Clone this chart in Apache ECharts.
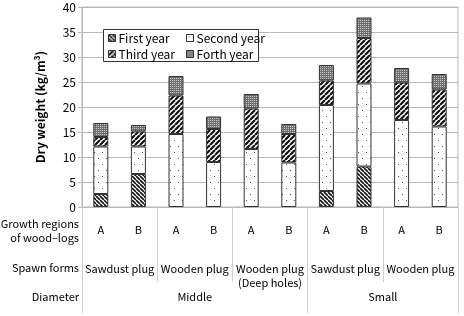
<!DOCTYPE html>
<html><head><meta charset="utf-8">
<script src="https://cdn.jsdelivr.net/npm/echarts@6/dist/echarts.min.js"></script>
<style>html,body{margin:0;padding:0;background:#fff}#c{width:464px;height:316px}</style>
</head><body><div id="c"></div>
<script>
const regions = ['A','B','A','B','A','B','A','B','A','B'];
const spawnForms = ['Sawdust plug','Wooden plug','Wooden plug\n(Deep holes)','Sawdust plug','Wooden plug'];
const diameters = ['Middle','Small'];
const diameterCounts = [6, 4];
const seriesNames = ['First year','Second year','Third year','Forth year'];
const firstYear  = [2.6, 6.6, 0, 0, 0, 0, 3.2, 8.1, 0, 0];
const secondYear = [9.5, 5.5, 14.6, 9.0, 11.6, 8.9, 17.2, 16.6, 17.4, 16.1];
const thirdYear  = [1.9, 3.0, 7.7, 6.6, 8.1, 5.7, 4.9, 9.1, 7.5, 7.4];
const forthYear  = [2.8, 1.3, 3.9, 2.5, 2.9, 2.0, 3.1, 4.1, 2.9, 3.1];
const yTicks = {min: 0, max: 40, interval: 5};

function hatch(size, lw, dir, fg, bg) {
  const c = document.createElement('canvas'); c.width = c.height = size;
  const g = c.getContext('2d'); g.fillStyle = bg; g.fillRect(0, 0, size, size);
  g.strokeStyle = fg; g.lineWidth = lw; g.beginPath();
  for (let k = -1; k <= 1; k++) {
    if (dir > 0) { g.moveTo(k*size, size); g.lineTo(k*size + size, 0); }
    else { g.moveTo(k*size, 0); g.lineTo(k*size + size, size); }
  }
  g.stroke(); return c;
}
function dots() {
  const c = document.createElement('canvas'); c.width = 8; c.height = 12;
  const g = c.getContext('2d'); g.fillStyle = '#fff'; g.fillRect(0, 0, 8, 12);
  g.fillStyle = '#555'; g.fillRect(2, 2, 1, 1); g.fillRect(6, 8, 1, 1);
  return c;
}
function grid2() {
  const c = document.createElement('canvas'); c.width = 2; c.height = 2;
  const g = c.getContext('2d'); g.fillStyle = '#707070'; g.fillRect(0, 0, 2, 2);
  g.fillStyle = '#c8c8c8'; g.fillRect(0, 0, 1, 1);
  return c;
}
const patterns = [
  hatch(4, 1.6, -1, '#111', '#fff'),
  dots(),
  hatch(5, 2.2, 1, '#111', '#fff'),
  grid2()
];
const values = [firstYear, secondYear, thirdYear, forthYear];

const total = diameterCounts.reduce((a, b) => a + b, 0);
const dTicks = [0]; const dCenters = [];
{ let acc = 0; diameterCounts.forEach(n => { dCenters.push(acc + n/2); acc += n; dTicks.push(acc); }); }

const font = '"Noto Sans CJK JP", "Noto Sans", sans-serif';
const fs = 11;
const lineC = '#b8b8b8';
const chart = echarts.init(document.getElementById('c'), null, {renderer: 'canvas'});
const legendCommon = {orient: 'vertical', top: 30, padding: [1, 2],
  itemWidth: 7, itemHeight: 7, itemGap: 2, icon: 'rect', z: 11,
  itemStyle: {borderColor: '#333', borderWidth: 1},
  textStyle: {fontSize: 12, fontFamily: font, color: '#000', lineHeight: 14, padding: [0, 0, 0, -2]}};
chart.setOption({
  animation: false,
  textStyle: {fontFamily: font, color: '#000'},
  grid: {left: 82, right: 6, top: 7, bottom: 109, show: true, borderColor: lineC, borderWidth: 1},
  legend: [
    Object.assign({data: ['First year', 'Third year'], left: 106}, legendCommon),
    Object.assign({data: ['Second year', 'Forth year'], left: 184}, legendCommon)
  ],
  graphic: [
    {type: 'rect', z: 10, shape: {x: 103.5, y: 29.5, width: 155, height: 32},
     style: {fill: '#fff', stroke: '#333', lineWidth: 1}},
    {type: 'text', x: 79, y: 224, z: 5, style: {text: 'Growth regions', font: fs + 'px ' + font, fill: '#000', textAlign: 'right', textVerticalAlign: 'middle'}},
    {type: 'text', x: 79, y: 238, z: 5, style: {text: 'of wood–logs', font: fs + 'px ' + font, fill: '#000', textAlign: 'right', textVerticalAlign: 'middle'}},
    {type: 'text', x: 79, y: 268, z: 5, style: {text: 'Spawn forms', font: fs + 'px ' + font, fill: '#000', textAlign: 'right', textVerticalAlign: 'middle'}},
    {type: 'text', x: 79, y: 297, z: 5, style: {text: 'Diameter', font: fs + 'px ' + font, fill: '#000', textAlign: 'right', textVerticalAlign: 'middle'}}
  ],
  xAxis: [
    {type: 'category', data: regions, position: 'bottom',
     axisLine: {show: true, lineStyle: {color: lineC}}, axisTick: {show: false},
     axisLabel: {margin: 17, interval: 0, fontSize: fs, color: '#000', fontFamily: font}},
    {type: 'category', data: spawnForms, position: 'bottom',
     axisLine: {show: false}, axisTick: {show: true, length: 75, lineStyle: {color: '#cfcfcf'}},
     axisLabel: {margin: 55, interval: 0, fontSize: fs, lineHeight: 14, color: '#000', fontFamily: font}},
    {type: 'value', min: 0, max: total, position: 'bottom',
     axisLine: {show: false}, splitLine: {show: false},
     axisTick: {show: true, length: 106, customValues: dTicks, lineStyle: {color: '#cfcfcf'}},
     axisLabel: {margin: 84, fontSize: fs, color: '#000', fontFamily: font, customValues: dCenters,
       formatter: v => diameters[dCenters.indexOf(v)] || ''}}
  ],
  yAxis: {type: 'value', min: yTicks.min, max: yTicks.max, interval: yTicks.interval,
    name: 'Dry weight (kg/m³)', nameLocation: 'middle', nameGap: 36,
    nameTextStyle: {fontWeight: 'bold', fontSize: 12, color: '#000', fontFamily: font},
    axisLine: {show: true, lineStyle: {color: lineC}},
    axisTick: {show: true, length: 4, lineStyle: {color: lineC}},
    axisLabel: {fontSize: 12, color: '#000', margin: 6, fontFamily: font},
    splitLine: {lineStyle: {color: lineC}}},
  series: seriesNames.map((n, i) => ({
    name: n, type: 'bar', stack: 'total', barWidth: 15, xAxisIndex: 0,
    data: values[i].map(v => v === 0 ? null : v),
    itemStyle: {color: {image: patterns[i], repeat: 'repeat'}, borderColor: '#333', borderWidth: 1}
  }))
});
</script></body></html>
